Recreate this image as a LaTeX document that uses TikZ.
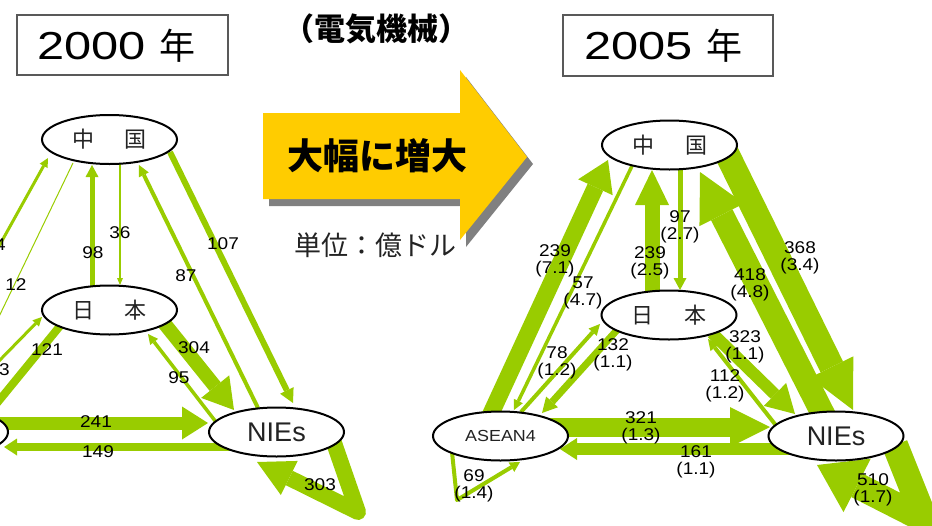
\documentclass[tikz,border=0pt]{standalone}
\usepackage{fontspec}
\setmainfont{Liberation Sans}
\newfontfamily\jp{Noto Sans CJK JP}
\newfontfamily\numf[FakeStretch=1.12]{Liberation Sans}
\newfontfamily\ttlf[FakeStretch=1.25]{Liberation Sans}
\usetikzlibrary{arrows.meta,shapes.geometric}
\pgfdeclarelayer{bg}
\pgfsetlayers{bg,main}
\definecolor{flowgreen}{RGB}{153,204,0}
\definecolor{arrowyellow}{RGB}{255,204,0}
\definecolor{shadowgray}{RGB}{128,128,128}
\definecolor{txtgray}{RGB}{35,35,35}
\begin{document}
\begin{tikzpicture}[x=1pt,y=-1pt,
  country/.style={ellipse,draw=black,line width=2pt,fill=white,minimum width=135pt,minimum height=49pt,inner sep=0pt,text=txtgray},
  cjklabel/.style={font=\jp\fontsize{22}{22}\selectfont},
  latlabel/.style={font=\fontsize{27}{27}\selectfont},
  aslabel/.style={font=\numf\fontsize{16}{16}\selectfont},
  flw/.style n args={3}{draw=flowgreen,line width=#1pt,-{Triangle[width=#2pt,length=#3pt,line width=0pt]}},
  loopflw/.style n args={3}{draw=flowgreen,line width=#1pt,line join=round,-{Triangle[width=#2pt,length=#3pt,line width=0pt]}},
  val/.style={font=\numf\fontsize{17}{16.5}\selectfont,align=center,inner sep=0pt,text=black},
  titlebox/.style={draw=black!65,line width=1.2pt,inner sep=0pt},
]
\useasboundingbox (0,0) rectangle (932,525);

% titles
\node[titlebox,minimum width=211pt,minimum height=60pt] (boxL) at (122.5,45) {};
\node (tL) at (116.5,46) {\ttlf\fontsize{39}{39}\selectfont 2000 {\jp\fontsize{36}{36}\selectfont 年}};
\node[titlebox,minimum width=210pt,minimum height=61pt] (boxR) at (668,45.5) {};
\node (tR) at (663,46) {\ttlf\fontsize{39}{39}\selectfont 2005 {\jp\fontsize{36}{36}\selectfont 年}};
\node (cat) at (376,29) {\jp\bfseries\fontsize{31}{31}\selectfont （電気機械）};

% big yellow arrow
\fill[shadowgray,shift={(6,7)}] (263,113) -- (460,113) -- (460,70) -- (527,157) -- (460,240) -- (460,199) -- (263,199) -- cycle;
\fill[arrowyellow] (263,113) -- (460,113) -- (460,70) -- (527,157) -- (460,240) -- (460,199) -- (263,199) -- cycle;
\node (big) at (377,156) {\jp\bfseries\fontsize{36}{36}\selectfont 大幅に増大};
\node[text=txtgray] (unit) at (375,245) {\jp\fontsize{27}{27}\selectfont 単位：億ドル};

% country nodes, 2000
\node[country,cjklabel] (cnL) at (109.5,139.5) {中\hspace{31pt}国};
\node[country,cjklabel] (jpL) at (109.5,310) {日\hspace{31pt}本};
\node[country,latlabel] (niesL) at (276.5,432) {NIEs};
\node[country,aslabel] (asL) at (-59.5,432) {ASEAN4};

% country nodes, 2005
\node[country,cjklabel] (cnR) at (669.5,145) {中\hspace{31pt}国};
\node[country,cjklabel] (jpR) at (669,315) {日\hspace{31pt}本};
\node[country,latlabel] (niesR) at (836,436) {NIEs};
\node[country,aslabel] (asR) at (500.5,436) {ASEAN4};

\begin{pgfonlayer}{bg}
% ---- 2000 ----
\draw[flw={5}{13}{12}] ([shift={(-17.5,-23)}]jpL.center) -- ([shift={(-17.5,25.5)}]cnL.center);
\draw[flw={1.5}{6}{7}] ([shift={(10.5,24.5)}]cnL.center) -- ([shift={(10.5,-25)}]jpL.center);
\draw[flw={6}{15}{14}] ([shift={(60.5,12.5)}]cnL.center) -- ([shift={(16.5,-29)}]niesL.center);
\draw[flw={4}{11}{11}] ([shift={(-18.5,-24)}]niesL.center) -- ([shift={(29.5,25.5)}]cnL.center);
\draw[flw={14}{36}{30}] ([shift={(50.5,8)}]jpL.center) -- ([shift={(-42.5,-22)}]niesL.center);
\draw[flw={3.5}{10}{10}] ([shift={(-60.5,-10)}]niesL.center) -- ([shift={(38.5,24)}]jpL.center);
\draw[flw={13}{33}{26}] ([shift={(49.5,-9)}]asL.center) -- ([shift={(-68.5,-9)}]niesL.center);
\draw[flw={8}{17}{13}] ([shift={(-41.5,15)}]niesL.center) -- ([shift={(63.5,15)}]asL.center);
\draw[loopflw={16}{38}{36}] ([shift={(56.5,8)}]niesL.center) -- ([shift={(81.5,80)}]niesL.center) -- ([shift={(-19.5,30)}]niesL.center);
\draw[flw={3}{9}{9}] ([shift={(-32.5,-22)}]asL.center) -- ([shift={(-61.5,18.5)}]cnL.center);
\draw[flw={1}{5}{6}] ([shift={(-36.5,23.5)}]cnL.center) -- ([shift={(13.5,-22)}]asL.center);
\draw[flw={3}{9}{9}] ([shift={(10.5,-22)}]asL.center) -- ([shift={(-67.5,7)}]jpL.center);
\draw[flw={8}{20}{18}] ([shift={(-49.5,16)}]jpL.center) -- ([shift={(34.5,-2)}]asL.center);
% ---- 2005 ----
\draw[flw={17}{38}{30}] ([shift={(-12.5,-16)}]asR.center) -- ([shift={(-61.5,15)}]cnR.center);
\draw[flw={3.5}{10}{10}] ([shift={(-37.5,21)}]cnR.center) -- ([shift={(13.5,-26)}]asR.center);
\draw[flw={15}{34}{35}] ([shift={(-17,-23)}]jpR.center) -- ([shift={(-17.5,25)}]cnR.center);
\draw[flw={5}{13}{12}] ([shift={(10.5,23)}]cnR.center) -- ([shift={(11,-25)}]jpR.center);
\draw[flw={24}{50}{48}] ([shift={(-11,-18)}]niesR.center) -- ([shift={(30.5,27)}]cnR.center);
\draw[flw={25}{48}{48}] ([shift={(55.5,5)}]cnR.center) -- ([shift={(17,-26)}]niesR.center);
\draw[flw={12}{32}{28}] ([shift={(43,18)}]jpR.center) -- ([shift={(-41,-22)}]niesR.center);
\draw[flw={4}{11}{11}] ([shift={(-58,-8)}]niesR.center) -- ([shift={(39,24)}]jpR.center);
\draw[flw={19}{40}{40}] ([shift={(39.5,-9)}]asR.center) -- ([shift={(-66,-9)}]niesR.center);
\draw[flw={12}{22}{17}] ([shift={(-36,13)}]niesR.center) -- ([shift={(59.5,13)}]asR.center);
\draw[loopflw={26}{60}{45}] ([shift={(59,9)}]niesR.center) -- ([shift={(89,84)}]niesR.center) -- ([shift={(-19,29)}]niesR.center);
\draw[loopflw={4}{11}{10}] ([shift={(-48.5,16)}]asR.center) -- ([shift={(-43.5,64)}]asR.center) -- ([shift={(19.5,26)}]asR.center);
\draw[flw={4}{11}{11}] ([shift={(20.5,-24)}]asR.center) -- ([shift={(-69,9)}]jpR.center);
\draw[flw={7}{16}{15}] ([shift={(-52,15)}]jpR.center) -- ([shift={(41.5,-23)}]asR.center);
\end{pgfonlayer}

% values 2000
\node[val] (v98) at (93,253) {98};
\node[val] (v36) at (120,233) {36};
\node[val] (v107) at (223,244) {107};
\node[val] (v87) at (186,276) {87};
\node[val] (v304) at (194,348) {304};
\node[val] (v95) at (179,378) {95};
\node[val] (v241) at (96,422) {241};
\node[val] (v149) at (98,452) {149};
\node[val] (v303) at (320,485) {303};
\node[val,anchor=east] (v4) at (6,245) {4};
\node[val] (v12) at (16,285) {12};
\node[val,anchor=east] (v3) at (10,370) {3};
\node[val] (v121) at (47,350) {121};

% values 2005
\node[val] (w239a) at (555,261) {239\\(7.1)};
\node[val] (w57) at (583,293) {57\\(4.7)};
\node[val] (w239b) at (650,263) {239\\(2.5)};
\node[val] (w97) at (680,227) {97\\(2.7)};
\node[val] (w418) at (750,285) {418\\(4.8)};
\node[val] (w368) at (800,258) {368\\(3.4)};
\node[val] (w323) at (745,347) {323\\(1.1)};
\node[val] (w112) at (725,386) {112\\(1.2)};
\node[val] (w321) at (641,428) {321\\(1.3)};
\node[val] (w161) at (696,462) {161\\(1.1)};
\node[val] (w510) at (873,490) {510\\(1.7)};
\node[val] (w69) at (474,486) {69\\(1.4)};
\node[val] (w78) at (557,363) {78\\(1.2)};
\node[val] (w132) at (613,355) {132\\(1.1)};
\end{tikzpicture}
\end{document}
